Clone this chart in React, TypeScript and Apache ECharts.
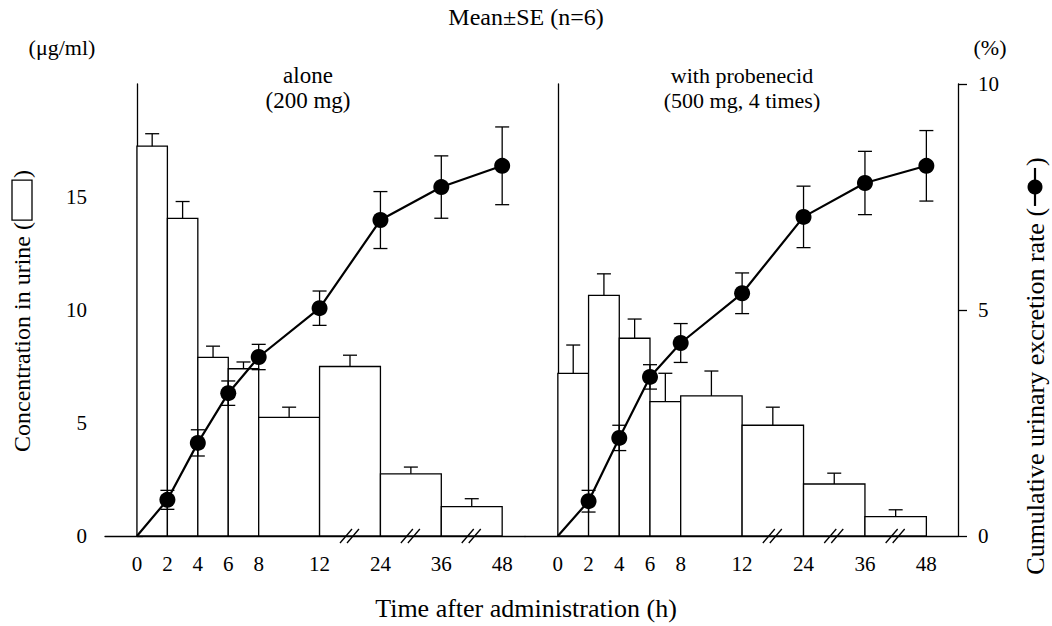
import React, { useEffect, useRef } from "react";
import * as echarts from "echarts";

// ---- data ----
const tickHours = [0, 2, 4, 6, 8, 12, 24, 36, 48];
const tickLabels = ["0", "2", "4", "6", "8", "12", "24", "36", "48"];
const barStartHours = [0, 2, 4, 6, 8, 12, 24, 36];
const barEndHours = [2, 4, 6, 8, 12, 24, 36, 48];
const concAloneMean = [17.25, 14.05, 7.9, 7.4, 5.25, 7.5, 2.75, 1.3];
const concAloneSE = [0.55, 0.75, 0.5, 0.3, 0.45, 0.5, 0.3, 0.35];
const concProbMean = [7.2, 10.65, 8.75, 5.95, 6.2, 4.9, 2.3, 0.86];
const concProbSE = [1.25, 0.95, 0.85, 1.25, 1.1, 0.8, 0.48, 0.3];
const pointHours = [2, 4, 6, 8, 12, 24, 36, 48];
const cumAloneMean = [0.8, 2.06, 3.16, 3.96, 5.04, 6.99, 7.72, 8.19];
const cumAloneSE = [0.21, 0.29, 0.27, 0.28, 0.38, 0.63, 0.69, 0.86];
const cumProbMean = [0.77, 2.17, 3.52, 4.27, 5.37, 7.06, 7.81, 8.19];
const cumProbSE = [0.24, 0.28, 0.27, 0.43, 0.45, 0.68, 0.7, 0.78];
const breakHours = [18, 30, 42];
const leftTicks = [0, 5, 10, 15];
const rightTicks = [0, 5, 10];

// ---- layout (broken time axis: equal spacing up to 8 h, then double steps) ----
const tickPositions = [0, 1, 2, 3, 4, 6, 8, 10, 12];
function pos(h: number): number {
  for (let i = 0; i < tickHours.length - 1; i++) {
    const a = tickHours[i], b = tickHours[i + 1];
    if (h >= a && h <= b) {
      return tickPositions[i] + ((h - a) / (b - a)) * (tickPositions[i + 1] - tickPositions[i]);
    }
  }
  return tickPositions[tickPositions.length - 1];
}

const FONT = "Liberation Serif";

function measure(text: string, size: number): number {
  const c = document.createElement("canvas").getContext("2d");
  if (!c) return text.length * size * 0.45;
  c.font = `${size}px "Liberation Serif"`;
  return c.measureText(text).width;
}

function barRender(params: any, api: any) {
  const p0 = api.coord([api.value(0), 0]);
  const p1 = api.coord([api.value(1), api.value(2)]);
  return {
    type: "rect",
    shape: { x: p0[0], y: p1[1], width: p1[0] - p0[0], height: p0[1] - p1[1] },
    style: { fill: "#fff", stroke: "#000", lineWidth: 1.3 },
  };
}

function barErrRender(params: any, api: any) {
  const m = api.value(0);
  const base = api.coord([m, api.value(1)]);
  const top = api.coord([m, api.value(1) + api.value(2)]);
  const st = { stroke: "#000", lineWidth: 1.3 };
  return {
    type: "group",
    children: [
      { type: "line", shape: { x1: base[0], y1: base[1], x2: top[0], y2: top[1] }, style: st },
      { type: "line", shape: { x1: top[0] - 7, y1: top[1], x2: top[0] + 7, y2: top[1] }, style: st },
    ],
  };
}

function lineErrRender(params: any, api: any) {
  const x = api.value(0);
  const lo = api.coord([x, api.value(1) - api.value(2)]);
  const hi = api.coord([x, api.value(1) + api.value(2)]);
  const st = { stroke: "#000", lineWidth: 1.3 };
  return {
    type: "group",
    children: [
      { type: "line", shape: { x1: lo[0], y1: lo[1], x2: hi[0], y2: hi[1] }, style: st },
      { type: "line", shape: { x1: hi[0] - 7, y1: hi[1], x2: hi[0] + 7, y2: hi[1] }, style: st },
      { type: "line", shape: { x1: lo[0] - 7, y1: lo[1], x2: lo[0] + 7, y2: lo[1] }, style: st },
    ],
  };
}

function breakRender(params: any, api: any) {
  const p = api.coord([api.value(0), 0]);
  const st = { stroke: "#000", lineWidth: 1.3 };
  return {
    type: "group",
    children: [
      { type: "line", shape: { x1: p[0] - 10, y1: p[1] + 7, x2: p[0] + 2, y2: p[1] - 7 }, style: st },
      { type: "line", shape: { x1: p[0] - 3, y1: p[1] + 7, x2: p[0] + 9, y2: p[1] - 7 }, style: st },
    ],
  };
}

function panelSeries(gi: number, concMean: number[], concSE: number[], cumMean: number[], cumSE: number[]) {
  const xi = gi;
  const yConc = gi === 0 ? 0 : 2;
  const yCum = gi === 0 ? 1 : 3;
  const bars = barStartHours.map((s, i) => [pos(s), pos(barEndHours[i]), concMean[i]]);
  const barErr = barStartHours.map((s, i) => [(pos(s) + pos(barEndHours[i])) / 2, concMean[i], concSE[i]]);
  const lineData: any[] = [{ value: [pos(0), 0], symbol: "none" }].concat(
    pointHours.map((h, i) => ({ value: [pos(h), cumMean[i]] }) as any)
  );
  const lineErr = pointHours.map((h, i) => [pos(h), cumMean[i], cumSE[i]]);
  return [
    { type: "custom", xAxisIndex: xi, yAxisIndex: yConc, renderItem: barRender, data: bars, encode: { x: [0, 1], y: 2 }, z: 1, silent: true },
    { type: "custom", xAxisIndex: xi, yAxisIndex: yConc, renderItem: barErrRender, data: barErr, encode: { x: 0, y: 1 }, z: 2, silent: true },
    { type: "custom", xAxisIndex: xi, yAxisIndex: yCum, renderItem: lineErrRender, data: lineErr, encode: { x: 0, y: 1 }, z: 4, silent: true },
    {
      type: "line", xAxisIndex: xi, yAxisIndex: yCum, data: lineData, symbol: "circle", symbolSize: 16,
      itemStyle: { color: "#000" }, lineStyle: { color: "#000", width: 2.2 }, z: 5, silent: true,
    },
    {
      type: "custom", xAxisIndex: xi, yAxisIndex: yConc, renderItem: breakRender, clip: false,
      data: breakHours.map((h) => [pos(h), 0]), encode: { x: 0, y: 1 }, z: 6, silent: true,
    },
  ];
}

function xAxisCfg(gi: number, min: number, max: number) {
  return {
    type: "value", gridIndex: gi, min, max,
    axisLine: { show: true, lineStyle: { color: "#000", width: 1.3 } },
    axisTick: { show: false },
    splitLine: { show: false },
    axisLabel: {
      customValues: tickPositions,
      formatter: (v: number) => {
        const i = tickPositions.findIndex((p) => Math.abs(p - v) < 1e-6);
        return i >= 0 ? tickLabels[i] : "";
      },
      color: "#000", fontFamily: FONT, fontSize: 21, margin: 17,
    },
  };
}

function titleGraphics() {
  const txt = (text: string, x: number, y: number, size: number) => ({
    type: "text", x, y, silent: true,
    style: { text, fill: "#000", fontFamily: FONT, fontSize: size, align: "center", verticalAlign: "middle" },
  });
  const els: any[] = [
    txt("Mean±SE (n=6)", 526, 17, 24),
    txt("(μg/ml)", 62, 47, 22),
    txt("(%)", 990, 47, 22),
    txt("alone", 308, 75, 23),
    txt("(200 mg)", 308, 100, 23),
    txt("with probenecid", 742, 75, 22),
    txt("(500 mg, 4 times)", 742, 100, 22),
    txt("Time after administration (h)", 526, 608, 26),
  ];
  const rot = (text: string, x: number, y: number, size: number) => ({
    type: "text", x, y, rotation: Math.PI / 2, silent: true,
    style: { text, fill: "#000", fontFamily: FONT, fontSize: size, align: "left", verticalAlign: "middle" },
  });
  // left axis title with open box symbol
  {
    const size = 24;
    const t1 = "Concentration in urine (";
    const t2 = ")";
    const w1 = measure(t1, size), w2 = measure(t2, size);
    const boxLen = 40, gap = 2;
    const total = w1 + gap + boxLen + gap + w2;
    const cx = 22, cy = 311;
    const yB = cy + total / 2;
    els.push(rot(t1, cx, yB, size));
    els.push({
      type: "rect", silent: true,
      shape: { x: cx - 10, y: yB - w1 - gap - boxLen, width: 20, height: boxLen },
      style: { fill: "#fff", stroke: "#000", lineWidth: 1.3 },
    });
    els.push(rot(t2, cx, yB - w1 - gap - boxLen - gap, size));
  }
  // right axis title with line+dot symbol
  {
    const size = 26;
    const t1 = "Cumulative urinary excretion rate (";
    const t2 = ")";
    const w1 = measure(t1, size), w2 = measure(t2, size);
    const symLen = 38, gap = 2;
    const total = w1 + gap + symLen + gap + w2;
    const cx = 1035, cy = 366;
    const yB = cy + total / 2;
    els.push(rot(t1, cx, yB, size));
    const sc = yB - w1 - gap - symLen / 2;
    els.push({
      type: "line", silent: true,
      shape: { x1: cx, y1: sc - symLen / 2, x2: cx, y2: sc + symLen / 2 },
      style: { stroke: "#000", lineWidth: 2.2 },
    });
    els.push({ type: "circle", silent: true, shape: { cx, cy: sc, r: 7.5 }, style: { fill: "#000" } });
    els.push(rot(t2, cx, yB - w1 - gap - symLen - gap, size));
  }
  return els;
}

export default function App() {
  const ref = useRef<HTMLDivElement>(null);
  useEffect(() => {
    if (!ref.current) return;
    const chart = echarts.init(ref.current, undefined, { renderer: "svg" });
    const option: any = {
      animation: false,
      backgroundColor: "#fff",
      textStyle: { fontFamily: FONT },
      grid: [
        { left: 105, top: 84, width: 420, height: 452 },
        { left: 525, top: 84, width: 433, height: 452 },
      ],
      xAxis: [xAxisCfg(0, -1.05, 12.75), xAxisCfg(1, -1.07, 13.03)],
      yAxis: [
        {
          type: "value", gridIndex: 0, min: 0, max: 20, position: "left",
          axisLine: { show: true, lineStyle: { color: "#000", width: 1.3 } },
          axisTick: { show: true, inside: true, length: 6, customValues: leftTicks, lineStyle: { color: "#000", width: 1.3 } },
          axisLabel: { customValues: leftTicks, color: "#000", fontFamily: FONT, fontSize: 21, margin: 18 },
          splitLine: { show: false },
        },
        {
          type: "value", gridIndex: 0, min: 0, max: 10, position: "right", show: false,
        },
        {
          type: "value", gridIndex: 1, min: 0, max: 20, position: "left",
          axisLine: { show: true, lineStyle: { color: "#000", width: 1.3 } },
          axisTick: { show: false }, axisLabel: { show: false }, splitLine: { show: false },
        },
        {
          type: "value", gridIndex: 1, min: 0, max: 10, position: "right",
          axisLine: { show: true, lineStyle: { color: "#000", width: 1.3 } },
          axisTick: { show: true, inside: false, length: 9, customValues: rightTicks, lineStyle: { color: "#000", width: 1.3 } },
          axisLabel: { customValues: rightTicks, color: "#000", fontFamily: FONT, fontSize: 21, margin: 20 },
          splitLine: { show: false },
        },
      ],
      series: [
        ...panelSeries(0, concAloneMean, concAloneSE, cumAloneMean, cumAloneSE),
        ...panelSeries(1, concProbMean, concProbSE, cumProbMean, cumProbSE),
      ],
      graphic: titleGraphics(),
    };
    chart.setOption(option);
    return () => chart.dispose();
  }, []);
  return <div ref={ref} style={{ width: 1052, height: 626, position: "absolute", left: 0, top: 0 }} />;
}
